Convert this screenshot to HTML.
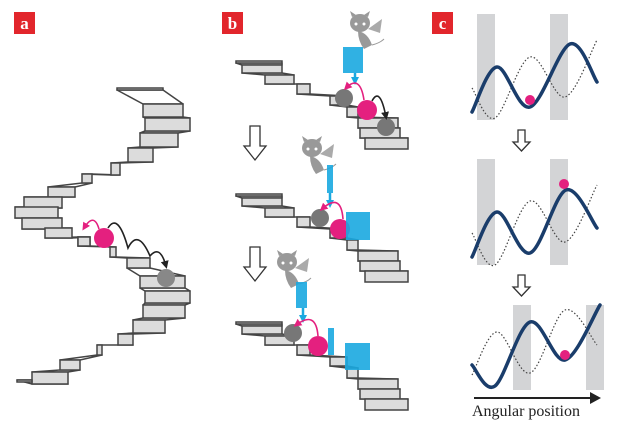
<!DOCTYPE html>
<html><head><meta charset="utf-8"><style>
html,body{margin:0;padding:0;background:#fff}
svg{display:block}
</style></head><body>
<svg id="s" width="618" height="430" viewBox="0 0 618 430" xmlns="http://www.w3.org/2000/svg">
<defs>
<marker id="mk" markerWidth="8" markerHeight="8" refX="5" refY="4" orient="auto" markerUnits="userSpaceOnUse"><path d="M0,0 L8,4 L0,8 z" fill="#222"/></marker>
<marker id="mp" markerWidth="8" markerHeight="8" refX="5" refY="4" orient="auto" markerUnits="userSpaceOnUse"><path d="M0,0 L8,4 L0,8 z" fill="#e4207f"/></marker>
<marker id="mb" markerWidth="8" markerHeight="8" refX="5" refY="4" orient="auto" markerUnits="userSpaceOnUse"><path d="M0,0 L8,4 L0,8 z" fill="#1aa9e0"/></marker>
</defs>
<g id="stairs"></g>
<g id="rest"></g>
<rect x="14" y="12" width="21" height="22" fill="#e2262c"/>
<text x="24.5" y="29" font-family="Liberation Serif,serif" font-weight="bold" font-size="17" fill="#fff" text-anchor="middle">a</text>
<rect x="222" y="12" width="21" height="22" fill="#e2262c"/>
<text x="232.5" y="29" font-family="Liberation Serif,serif" font-weight="bold" font-size="17" fill="#fff" text-anchor="middle">b</text>
<rect x="432" y="12" width="21" height="22" fill="#e2262c"/>
<text x="442.5" y="29" font-family="Liberation Serif,serif" font-weight="bold" font-size="17" fill="#fff" text-anchor="middle">c</text>
<g fill="#d3d4d6">
<rect x="477" y="14" width="18" height="106"/><rect x="550" y="14" width="18" height="106"/>
<rect x="477" y="159" width="18" height="106"/><rect x="550" y="159" width="18" height="106"/>
<rect x="513" y="305" width="18" height="85"/><rect x="586" y="305" width="18" height="85"/>
</g>
<g id="curves" fill="none"></g>
<circle cx="530" cy="100" r="5" fill="#e4207f"/>
<circle cx="564" cy="184" r="5" fill="#e4207f"/>
<circle cx="565" cy="355" r="5" fill="#e4207f"/>
<line x1="474" y1="398" x2="592" y2="398" stroke="#222" stroke-width="2"/>
<path d="M590,392 L601,398 L590,404 z" fill="#222"/>
<text x="472" y="416" font-family="Liberation Serif,serif" font-size="16" fill="#222">Angular position</text>
<g fill="#fff" stroke="#333" stroke-width="1.3">
<path d="M250,126 h10 v20 h6 l-11,14 l-11,-14 h6 z"/>
<path d="M250,247 h10 v20 h6 l-11,14 l-11,-14 h6 z"/>
<path d="M518,130 h7 v12 h5 l-8.5,9 l-8.5,-9 h5 z"/>
<path d="M518,275 h7 v12 h5 l-8.5,9 l-8.5,-9 h5 z"/>
</g>
</svg>
<script>
var NS="http://www.w3.org/2000/svg";
function el(p,t,a){var e=document.createElementNS(NS,t);for(var k in a)e.setAttribute(k,a[k]);document.getElementById(p).appendChild(e);return e;}
function stair(S,dy){
 var i,s,n;
 for(i=0;i<S.length-1;i++){s=S[i];n=S[i+1];
  var yb=s[2]+s[3]+dy, yt=n[2]+dy;
  el("stairs","polygon",{points:s[0]+","+yb+" "+s[1]+","+yb+" "+n[1]+","+yt+" "+n[0]+","+yt,fill:"#fff",stroke:"#444","stroke-width":1.5,"stroke-linejoin":"round"});
 }
 for(i=0;i<S.length;i++){s=S[i];
  el("stairs","rect",{x:s[0],y:s[2]+dy,width:s[1]-s[0],height:s[3],fill:"#dcdcdc",stroke:"#444","stroke-width":1.5});
 }
}
var A1=[[117,163,88,2],[143,183,104,13],[145,190,118,13],[140,178,133,14],[128,153,148,14],[111,120,163,12],[82,92,174,9],
[48,75,187,10],[24,62,197,11],[15,58,207,11],[22,62,218,11],[45,72,228,10],[78,90,237,9]];
var A2=[[78,90,237,9],[110,116,247,10],[127,150,258,10],[140,185,276,12],[145,190,291,12],[143,185,305,13],[133,165,320,13],[118,133,334,11],[97,102,345,10],[60,80,360,10],[32,68,372,12],[17,32,380,2]];
// draw bottom part first, then upper (upper overlaps lower)
stair(A2,0);stair(A1,0);
var B=[[236,282,61,2],[242,282,65,8],[265,294,75,9],[297,310,84,10],[330,347,96,9],[347,358,107,10],[358,398,118,10],[360,400,128,10],[365,408,138,11]];
stair(B,0);stair(B,133);stair(B,261);
function ball(x,y,r,c){el("rest","circle",{cx:x,cy:y,r:r,fill:c});}
function pth(d,c,m,w){el("rest","path",{d:d,fill:"none",stroke:c,"stroke-width":w||1.6,"marker-end":"url(#"+m+")"});}
function rc(x,y,w,h){el("rest","rect",{x:x,y:y,width:w,height:h,fill:"#1aa9e0","fill-opacity":0.9});}
function devil(x,y,s){
 var g=el("rest","g",{transform:"translate("+x+","+y+") scale("+s+")",fill:"#999"});
 var add=function(t,a){var e=document.createElementNS(NS,t);for(var k in a)e.setAttribute(k,a[k]);g.appendChild(e);};
 add("ellipse",{cx:0,cy:0,rx:10,ry:9});
 add("path",{d:"M-8,-6 L-10,-12 L-4,-8 z M8,-6 L10,-12 L4,-8 z"});
 add("path",{d:"M-2,8 Q8,10 12,22 L4,26 Q-2,18 -2,8 z"});
 add("path",{d:"M8,6 L22,-4 L20,10 z",fill:"#aaa"});
 add("path",{d:"M12,22 Q20,20 24,16",stroke:"#999",fill:"none"});
 add("circle",{cx:-4,cy:1,r:1.5,fill:"#fff"});add("circle",{cx:4,cy:1,r:1.5,fill:"#fff"});
}
pth("M99,229 Q94,212 84,228","#e4207f","mp");
ball(104,238,10,"#e4207f");ball(166,278,9,"#888");
pth("M108,228 Q118,212 128,248 Q138,228 150,256 Q160,244 166,266","#222","mk");
devil(360,23,1);rc(343,47,20,26);
pth("M355,73 L355,82","#1aa9e0","mb",2.5);
ball(344,98,9,"#777");ball(386,127,9,"#777");ball(367,110,10,"#e4207f");
pth("M364,100 Q360,74 346,88","#e4207f","mp");
pth("M372,101 Q380,86 386,117","#222","mk");
devil(312,148,1);rc(327,165,6,28);pth("M330,193 L330,205","#1aa9e0","mb",2.5);
ball(320,218,9,"#777");ball(340,229,10,"#e4207f");
pth("M343,219 Q341,192 322,209","#e4207f","mp");
rc(346,212,24,28);
devil(287,262,1);rc(296,282,11,26);pth("M303,308 L303,320","#1aa9e0","mb",2.5);
ball(293,333,9,"#777");ball(318,346,10,"#e4207f");
pth("M318,336 Q316,310 296,325","#e4207f","mp");
rc(328,328,6,27);rc(345,343,25,27);
function cr(pts){var d="M"+pts[0][0]+","+pts[0][1];for(var i=0;i<pts.length-1;i++){var p0=pts[i-1]||pts[i],p1=pts[i],p2=pts[i+1],p3=pts[i+2]||p2;
 d+=" C"+(p1[0]+(p2[0]-p0[0])/6)+","+(p1[1]+(p2[1]-p0[1])/6)+" "+(p2[0]-(p3[0]-p1[0])/6)+","+(p2[1]-(p3[1]-p1[1])/6)+" "+p2[0]+","+p2[1];}return d;}
function curve(pts,dot){el("curves","path",dot?{d:cr(pts),stroke:"#444","stroke-width":1.2,"stroke-dasharray":"1.5,2",fill:"none"}:{d:cr(pts),stroke:"#1a3d6b","stroke-width":3.5,fill:"none","stroke-linecap":"round"});}
curve([[472,88],[495,118],[530,57],[565,97],[597,40]],1);
curve([[472,112],[497,67],[530,107],[570,44],[597,82]],0);
curve([[472,233],[495,265],[530,201],[565,242],[597,185]],1);
curve([[472,257],[497,212],[530,253],[566,190],[597,228]],0);
curve([[472,375],[497,332],[530,373],[565,310],[597,345]],1);
curve([[472,365],[495,386],[530,322],[565,360],[600,305]],0);
</script>
</body></html>
